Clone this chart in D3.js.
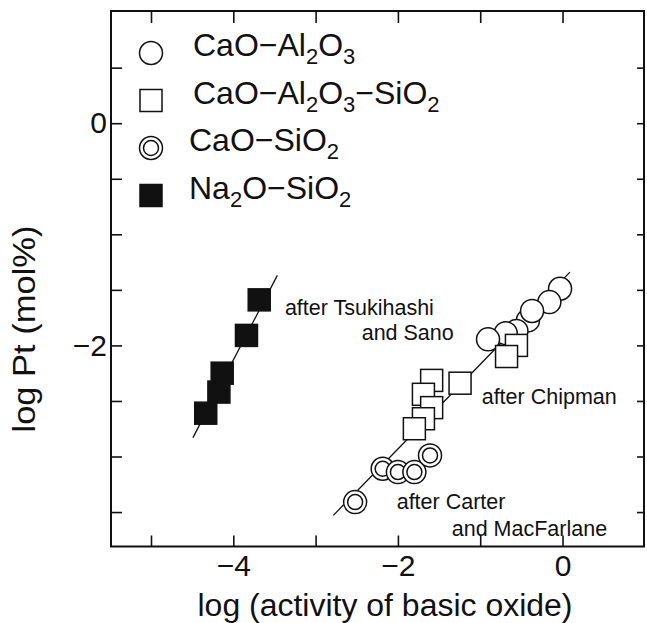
<!DOCTYPE html>
<html>
<head>
<meta charset="utf-8">
<script src="https://cdn.jsdelivr.net/npm/d3@7"></script>
<style>
  body { margin: 0; background: #fff; }
  text { font-family: "Liberation Sans", Arial, sans-serif; fill: #111; }
</style>
</head>
<body>
<script>
// chart size
var outerWidth = 647;
var outerHeight = 623;

// data, x = log activity, y = log Pt
var cao_al2o3 = [
  [-0.03, -1.49], [-0.16, -1.61], [-0.42, -1.775], [-0.37, -1.69],
  [-0.56, -1.87], [-0.69, -1.89], [-0.905, -1.945]
];
var cao_al2o3_sio2 = [
  [-0.56, -2.0], [-0.68, -2.10], [-1.245, -2.34], [-1.59, -2.315],
  [-1.69, -2.44], [-1.59, -2.56], [-1.69, -2.66], [-1.80, -2.75]
];
var cao_sio2 = [
  [-2.52, -3.41], [-2.185, -3.11], [-2.0, -3.14], [-1.80, -3.14], [-1.61, -2.99]
];
var na2o_sio2 = [
  [-3.685, -1.59], [-3.84, -1.91], [-4.135, -2.25], [-4.175, -2.42], [-4.335, -2.61]
];

// fitted lines, end points
var lineNa = [[-4.49, -2.83], [-3.465, -1.37]];
var lineCa = [[-2.785, -3.53], [0.09, -1.34]];

// ticks
var xTicks = [-5, -4, -3, -2, -1, 0];
var xLabels = [-4, -2, 0];
var yTicks = [0.5, 0, -0.5, -1, -1.5, -2, -2.5, -3, -3.5];
var yLabels = [0, -2];

// legend labels: [text, subscript?]
var legendLabels = [
  [["CaO\u2212Al", 0], ["2", 1], ["O", 0], ["3", 1]],
  [["CaO\u2212Al", 0], ["2", 1], ["O", 0], ["3", 1], ["\u2212SiO", 0], ["2", 1]],
  [["CaO\u2212SiO", 0], ["2", 1]],
  [["Na", 0], ["2", 1], ["O\u2212SiO", 0], ["2", 1]]
];
var legendKinds = ["circle", "square", "double", "filled"];

// annotations, anchored in data units
var notes = [
  ["after Tsukihashi", -3.373, -1.73],
  ["and Sano", -2.44, -1.955],
  ["after Chipman", -0.982, -2.525],
  ["after Carter", -2.015, -3.471],
  ["and MacFarlane", -1.346, -3.712]
];

var svg = d3.select("body").append("svg")
  .attr("width", outerWidth)
  .attr("height", outerHeight);

var pLeft = 111, pRight = 644, pTop = 11, pBottom = 546.5;

var x = d3.scaleLinear().domain([-5.486, 0.99]).range([pLeft, pRight]);
var y = d3.scaleLinear().domain([1.01, -3.81]).range([pTop, pBottom]);

//axes, ticks pointing in
var fmt = d3.format("d");
svg.append("g")
  .attr("transform", "translate(0," + pBottom + ")")
  .call(d3.axisBottom(x).tickValues(xTicks).tickSize(-11).tickPadding(8)
    .tickFormat(function(d){ return xLabels.indexOf(d) >= 0 ? fmt(d).replace("-", "\u2212") : ""; }));
svg.append("g")
  .attr("transform", "translate(0," + pTop + ")")
  .call(d3.axisTop(x).tickValues(xTicks).tickSize(-12).tickFormat(""));
svg.append("g")
  .attr("transform", "translate(" + pLeft + ",0)")
  .call(d3.axisLeft(y).tickValues(yTicks).tickSize(-11).tickPadding(4)
    .tickFormat(function(d){ return yLabels.indexOf(d) >= 0 ? fmt(d).replace("-", "\u2212") : ""; }));
svg.append("g")
  .attr("transform", "translate(" + pRight + ",0)")
  .call(d3.axisRight(y).tickValues(yTicks).tickSize(-7).tickFormat(""));

svg.selectAll(".domain").remove();
svg.selectAll(".tick line").attr("stroke", "#111").attr("stroke-width", 1.6);
svg.selectAll(".tick text").attr("font-size", 30).attr("fill", "#111")
  .style("font-family", "Liberation Sans, Arial, sans-serif");

//frame
svg.append("rect")
  .attr("x", pLeft).attr("y", pTop)
  .attr("width", pRight - pLeft).attr("height", pBottom - pTop)
  .attr("fill", "none").attr("stroke", "#111").attr("stroke-width", 2);

//axis titles
svg.append("text")
  .attr("x", 385).attr("y", 616)
  .attr("text-anchor", "middle")
  .attr("font-size", 31)
  .attr("textLength", 375).attr("lengthAdjust", "spacingAndGlyphs")
  .text("log (activity of basic oxide)");
svg.append("text")
  .attr("transform", "translate(35,329) rotate(-90)")
  .attr("text-anchor", "middle")
  .attr("font-size", 31)
  .attr("textLength", 207).attr("lengthAdjust", "spacingAndGlyphs")
  .text("log Pt (mol%)");

//fitted lines
var line = d3.line().x(function(d){ return x(d[0]); }).y(function(d){ return y(d[1]); });
[lineNa, lineCa].forEach(function(l){
  svg.append("path").attr("d", line(l))
    .attr("fill", "none").attr("stroke", "#111").attr("stroke-width", 1.3);
});

var r = 11.5, side = 22;

function drawCircle(g, cx, cy){
  g.append("circle").attr("cx", cx).attr("cy", cy).attr("r", r)
    .attr("fill", "#fff").attr("stroke", "#111").attr("stroke-width", 1.5);
}
function drawDouble(g, cx, cy){
  drawCircle(g, cx, cy);
  g.append("circle").attr("cx", cx).attr("cy", cy).attr("r", r - 4)
    .attr("fill", "#fff").attr("stroke", "#111").attr("stroke-width", 1.5);
}
function drawSquare(g, cx, cy, filled){
  g.append("rect").attr("x", cx - side / 2).attr("y", cy - side / 2)
    .attr("width", side).attr("height", side)
    .attr("fill", filled ? "#111" : "#fff").attr("stroke", "#111").attr("stroke-width", 1.5);
}
function drawMark(g, kind, cx, cy){
  if(kind === "circle") drawCircle(g, cx, cy);
  else if(kind === "double") drawDouble(g, cx, cy);
  else drawSquare(g, cx, cy, kind === "filled");
}

//points
var pts = svg.append("g");
cao_al2o3.forEach(function(d){ drawMark(pts, "circle", x(d[0]), y(d[1])); });
cao_al2o3_sio2.forEach(function(d){ drawMark(pts, "square", x(d[0]), y(d[1])); });
cao_sio2.forEach(function(d){ drawMark(pts, "double", x(d[0]), y(d[1])); });
na2o_sio2.forEach(function(d){ drawMark(pts, "filled", x(d[0]), y(d[1])); });

//legend
var leg = svg.append("g");
legendLabels.forEach(function(parts, i){
  var cy = 53 + i * 47.5;
  drawMark(leg, legendKinds[i], 151, cy);
  var t = leg.append("text")
    .attr("x", i < 2 ? 193 : 189).attr("y", cy + 11)
    .attr("font-size", 32);
  parts.forEach(function(p){
    t.append("tspan")
      .attr("font-size", p[1] ? 22 : 32)
      .attr("dy", p[1] ? 8 : (t.selectAll("tspan").size() > 0 ? -8 : 0))
      .text(p[0]);
  });
});

//annotations
svg.selectAll(".note")
  .data(notes)
  .enter()
  .append("text")
  .attr("class", "note")
  .attr("x", function(d){ return x(d[1]); })
  .attr("y", function(d){ return y(d[2]); })
  .attr("font-size", 21.5)
  .text(function(d){ return d[0]; });
</script>
</body>
</html>
